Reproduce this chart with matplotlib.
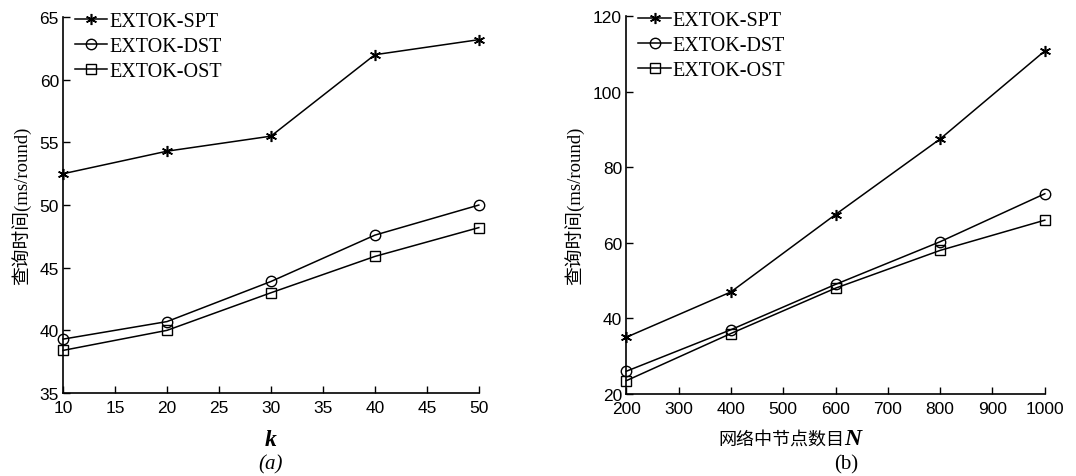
import matplotlib
matplotlib.use('Agg')
import matplotlib.pyplot as plt

# 数据 (a): 查询时间 vs k
k_vals = [10, 20, 30, 40, 50]
spt_k = [52.5, 54.3, 55.5, 62.0, 63.2]
dst_k = [39.3, 40.7, 43.9, 47.6, 50.0]
ost_k = [38.4, 40.0, 43.0, 45.9, 48.2]

# 数据 (b): 查询时间 vs N
n_vals = [200, 400, 600, 800, 1000]
spt_n = [35.0, 47.0, 67.5, 87.5, 110.8]
dst_n = [26.0, 37.0, 49.0, 60.3, 73.0]
ost_n = [23.5, 36.0, 48.0, 58.0, 66.0]

labels = ['EXTOK-SPT', 'EXTOK-DST', 'EXTOK-OST']
markers = [(6, 2, 0), 'o', 's']

serif_cjk = ['Liberation Serif', 'Noto Sans CJK SC']
plt.rcParams['font.family'] = ['Liberation Sans', 'DejaVu Sans']

fig = plt.figure(figsize=(10.76, 4.77), dpi=100)
ax1 = fig.add_axes([0.0586, 0.174, 0.3864, 0.788])
ax2 = fig.add_axes([0.582, 0.172, 0.389, 0.792])


def draw(ax, x, series):
    for y, m, lab in zip(series, markers, labels):
        is_star = not isinstance(m, str)
        ax.plot(x, y, color='black', lw=1.1, marker=m,
                markersize=8 if is_star else 7.5,
                markerfacecolor='none', markeredgecolor='black',
                markeredgewidth=1.15 if is_star else 1.0, label=lab, clip_on=False)
    for s in ['top', 'right']:
        ax.spines[s].set_visible(False)
    for s in ['left', 'bottom']:
        ax.spines[s].set_linewidth(1.2)
    ax.tick_params(direction='in', length=5, width=1, labelsize=12.5)
    ax.tick_params(axis='x', pad=5)
    ax.tick_params(axis='y', pad=3)
    ax.legend(loc='upper left', frameon=False, handlelength=1.6, handletextpad=0.1,
              borderaxespad=0.0, labelspacing=0.3, bbox_to_anchor=(0.01, 1.035),
              prop={'family': 'Liberation Serif', 'size': 14.5})


draw(ax1, k_vals, [spt_k, dst_k, ost_k])
ax1.set_xlim(10, 50)
ax1.set_ylim(35, 65)
ax1.set_xticks(range(10, 51, 5))
ax1.set_yticks(range(35, 66, 5))
ax1.set_ylabel('查询时间(ms/round)', family=serif_cjk, fontsize=13.5, labelpad=6)
ax1.set_xlabel('k', family='Liberation Serif', fontsize=17, style='italic',
               weight='bold', labelpad=10)

draw(ax2, n_vals, [spt_n, dst_n, ost_n])
ax2.set_xlim(200, 1000)
ax2.set_ylim(20, 120)
ax2.set_xticks(range(200, 1001, 100))
ax2.set_yticks(range(20, 121, 20))
ax2.set_ylabel('查询时间(ms/round)', family=serif_cjk, fontsize=13.5, labelpad=6)

fig.text(0.785, 0.078, '网络中节点数目', family=['Noto Sans CJK SC'], fontsize=13,
         ha='right', va='center')
fig.text(0.785, 0.078, 'N', family='Liberation Serif', fontsize=17, style='italic',
         weight='bold', ha='left', va='center')

fig.text(0.251, 0.025, '(a)', family='Liberation Serif', fontsize=15, style='italic',
         ha='center', va='center')
fig.text(0.786, 0.025, '(b)', family='Liberation Serif', fontsize=15,
         ha='center', va='center')

fig.savefig('out.png', dpi=100)
